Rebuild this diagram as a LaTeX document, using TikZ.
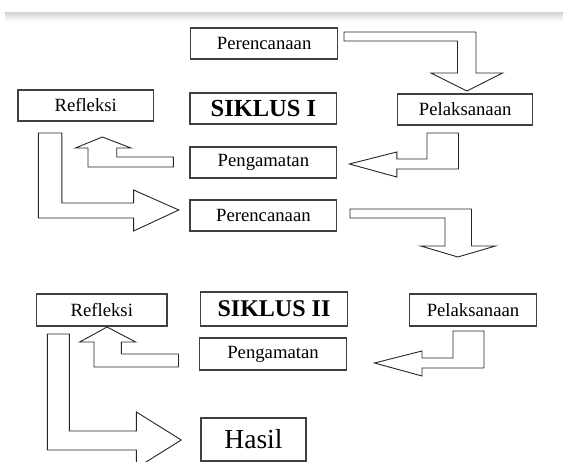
\documentclass[tikz,border=0pt]{standalone}
\usepackage{fontspec}
\setmainfont{Liberation Serif}

\begin{document}
\begin{tikzpicture}[x=1pt,y=-1pt,
		box/.style={draw=black!75,line width=1.2pt,fill=white,inner sep=0pt,
			font=\fontsize{18.7}{20}\selectfont},
		title/.style={box,font=\fontsize{24.5}{26}\selectfont\bfseries},
		blockarrow/.style={draw=black!85,line width=0.9pt,fill=white,line join=miter}]
	\fill[white] (0,0) rectangle (563,462);
	\useasboundingbox (0,0) rectangle (563,462);
	\clip (0,0) rectangle (563,462);
	\shade[top color=black!16,bottom color=white] (5,13) rectangle (563,21);

	\node[box,minimum width=146.8pt,minimum height=31pt] (plan1) at (264.1,43.5) {Perencanaan};
	\node[box,minimum width=135.3pt,minimum height=31pt] (refl1) at (85.7,105.5) {Refleksi};
	\node[title,minimum width=146.8pt,minimum height=31pt] (cyc1) at (263.4,108.5) {SIKLUS I};
	\node[box,minimum width=134.7pt,minimum height=31pt] (act1) at (465.2,109.5) {Pelaksanaan};
	\node[box,minimum width=146.8pt,minimum height=31pt] (obs1) at (263.4,162.5) {Pengamatan};
	\node[box,minimum width=146.8pt,minimum height=31pt] (plan2) at (263.4,215.5) {Perencanaan};

	\node[box,minimum width=130.4pt,minimum height=32pt] (refl2) at (101.8,310) {Refleksi};
	\node[title,font=\fontsize{24}{26}\selectfont\bfseries,minimum width=147.2pt,minimum height=34pt] (cyc2) at (274,309) {SIKLUS II};
	\node[box,minimum width=127.5pt,minimum height=32pt] (act2) at (473,310) {Pelaksanaan};
	\node[box,minimum width=147.2pt,minimum height=32pt] (obs2) at (273,354) {Pengamatan};
	\node[box,font=\fontsize{27.5}{30}\selectfont,minimum width=105pt,minimum height=43pt] (result) at (253.5,439.5) {Hasil};

	\draw[blockarrow] (344,32) -- (476,32) -- (476,73) -- (502.7,73) -- (466.8,91)
		-- (431,73) -- (457.5,73) -- (457.5,41) -- (344,41) -- cycle;
	\draw[blockarrow] (427,133) -- (458.5,133) -- (458.5,169) -- (396.8,169) -- (396.8,177)
		-- (349.4,164) -- (396.8,152) -- (396.8,159) -- (427,159) -- cycle;
	\draw[blockarrow] (173.4,157) -- (116.7,157) -- (116.7,148) -- (131,148) -- (102.3,137)
		-- (75.4,148) -- (88,148) -- (88,167) -- (173.4,167) -- cycle;
	\draw[blockarrow] (38.4,133) -- (61.8,133) -- (61.8,203) -- (133.6,203) -- (133.6,190)
		-- (178.8,210) -- (133.6,231) -- (133.6,218) -- (38.4,218) -- cycle;
	\draw[blockarrow] (350,209) -- (471.5,209) -- (471.5,246) -- (495.5,246) -- (457.8,257)
		-- (420.8,246) -- (445,246) -- (445,218) -- (350,218) -- cycle;

	\draw[blockarrow] (453,331) -- (484,331) -- (484,368) -- (422,368) -- (422,376)
		-- (374.5,363) -- (422,351) -- (422,358) -- (453,358) -- cycle;
	\draw[blockarrow] (178.5,354) -- (121.4,354) -- (121.4,342) -- (135.7,342) -- (107,327)
		-- (79.7,342) -- (94,342) -- (94,367) -- (178.5,367) -- cycle;
	\draw[blockarrow] (47.4,334) -- (69.3,334) -- (69.3,431) -- (136.4,431) -- (136.4,412)
		-- (181.3,440) -- (136.4,468) -- (136.4,450) -- (47.4,450) -- cycle;
\end{tikzpicture}
\end{document}
